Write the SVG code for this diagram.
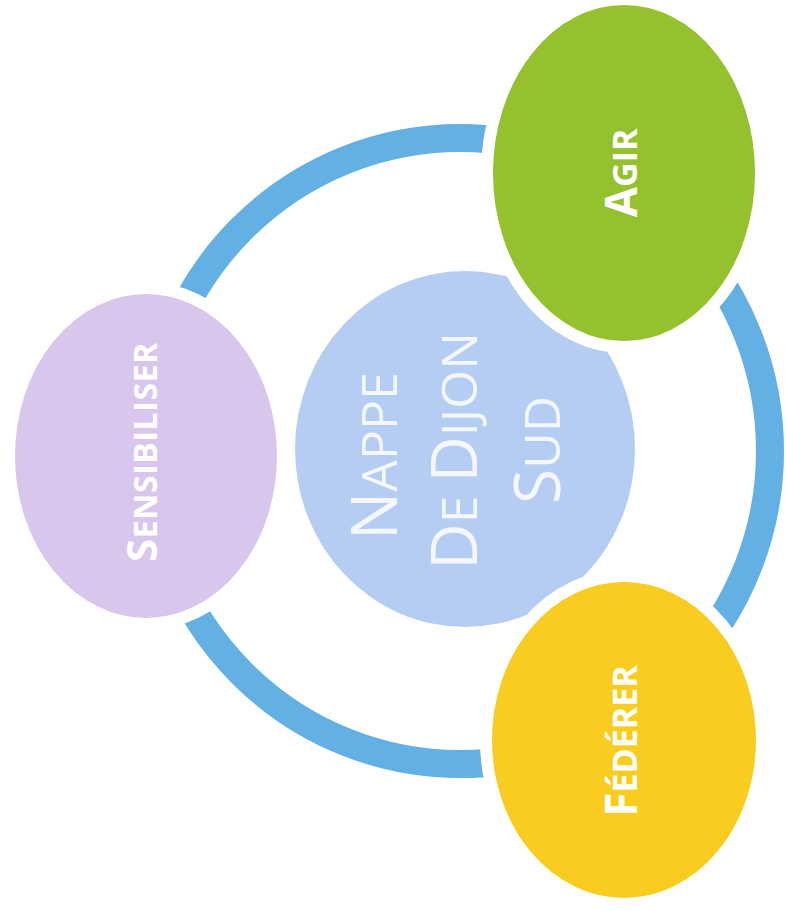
<svg xmlns="http://www.w3.org/2000/svg" width="786" height="911" viewBox="0 0 786 911">
  <style>
    .node { stroke: #ffffff; stroke-width: 12; }
    .lbl { font-family: "Open Sans", "Liberation Sans", sans-serif; font-weight: 700; fill: #ffffff; text-anchor: middle; }
    .big { font-size: 44px; }
    .sm { font-size: 34px; }
    .ctr { font-family: "Open Sans", "Liberation Sans", sans-serif; font-weight: 400; fill: #f4f7fd; text-anchor: middle; }
    .cbig { font-size: 64px; }
    .csm { font-size: 50px; }
  </style>
  <rect width="786" height="911" fill="#ffffff"/>
  <g id="connectors">
    <ellipse cx="460" cy="451" rx="310" ry="313" fill="none" stroke="#63b0e4" stroke-width="28"/>
  </g>
  <g id="center">
    <ellipse cx="465" cy="449" rx="170" ry="178" fill="#b5cdf2"/>
    <g transform="translate(465,452) rotate(-90)">
      <text class="ctr" x="-4" y="-68"><tspan class="cbig">N</tspan><tspan class="csm">APPE</tspan></text>
      <text class="ctr" x="1" y="12"><tspan class="cbig">D</tspan><tspan class="csm">E </tspan><tspan class="cbig">D</tspan><tspan class="csm">IJON</tspan></text>
      <text class="ctr" x="2" y="95"><tspan class="cbig">S</tspan><tspan class="csm">UD</tspan></text>
    </g>
  </g>
  <g id="sensibiliser">
    <ellipse class="node" cx="146" cy="456" rx="137" ry="168" fill="#d9c6ec"/>
    <text class="lbl" transform="translate(157,452) rotate(-90)" letter-spacing="0.6"><tspan style="font-size:42px">S</tspan><tspan style="font-size:32px">ENSIBILISER</tspan></text>
  </g>
  <g id="agir">
    <ellipse class="node" cx="624" cy="173" rx="137" ry="174" fill="#96c12f"/>
    <text class="lbl" transform="translate(637,173) rotate(-90)"><tspan class="big">A</tspan><tspan class="sm">GIR</tspan></text>
  </g>
  <g id="federer">
    <ellipse class="node" cx="624" cy="740" rx="138" ry="164" fill="#f8cd1f"/>
    <text class="lbl" transform="translate(637,741) rotate(-90)"><tspan class="big">F</tspan><tspan class="sm">ÉDÉRER</tspan></text>
  </g>
</svg>
